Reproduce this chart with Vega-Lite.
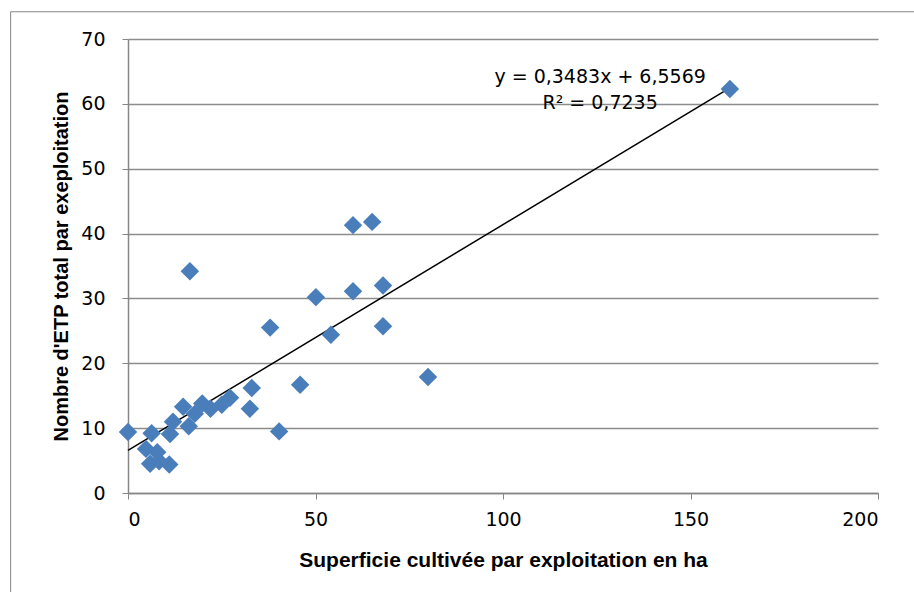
{
  "$schema": "https://vega.github.io/schema/vega-lite/v6.json",
  "autosize": "none",
  "width": 750,
  "height": 454,
  "padding": {"left": 128, "top": 39, "right": 36, "bottom": 99},
  "background": "white",
  "config": {
    "view": {"stroke": null},
    "font": "DejaVu Sans"
  },
  "datasets": {
    "points": [
      {"x": 0, "y": 9.4},
      {"x": 4.8, "y": 6.8},
      {"x": 5.9, "y": 4.5},
      {"x": 6.3, "y": 9.2},
      {"x": 7.8, "y": 6.3},
      {"x": 8.3, "y": 4.9},
      {"x": 11, "y": 4.4},
      {"x": 11.2, "y": 9.1},
      {"x": 12, "y": 11},
      {"x": 14.7, "y": 13.3},
      {"x": 16.2, "y": 10.3},
      {"x": 16.5, "y": 34.2},
      {"x": 17.8, "y": 12.2},
      {"x": 19.8, "y": 13.8},
      {"x": 22, "y": 13},
      {"x": 25, "y": 13.6},
      {"x": 27.2, "y": 14.7},
      {"x": 32.5, "y": 13},
      {"x": 33, "y": 16.2},
      {"x": 37.9, "y": 25.5},
      {"x": 40.3, "y": 9.5},
      {"x": 45.9, "y": 16.7},
      {"x": 50.1, "y": 30.2},
      {"x": 54.1, "y": 24.4},
      {"x": 60, "y": 41.3},
      {"x": 65.1, "y": 41.8},
      {"x": 60, "y": 31.1},
      {"x": 68, "y": 32},
      {"x": 68, "y": 25.7},
      {"x": 80, "y": 17.9},
      {"x": 160.5, "y": 62.3}
    ],
    "trend": [
      {"x": 0, "y": 6.5569},
      {"x": 160.5, "y": 62.4591}
    ],
    "labels": [
      {"x": 125.9, "y": 64.1, "text": "y = 0,3483x + 6,5569"},
      {"x": 125.9, "y": 60.1, "text": "R² = 0,7235"}
    ]
  },
  "layer": [
    {
      "data": {"values": [{"a": 1}]},
      "mark": {"type": "rect", "filled": false, "color": "#868686", "strokeWidth": 1, "clip": false},
      "encoding": {
        "x": {"datum": -31.3, "type": "quantitative", "scale": {"domain": [0, 200]}},
        "x2": {"datum": 215},
        "y": {"datum": 74.2, "type": "quantitative", "scale": {"domain": [0, 70]}},
        "y2": {"datum": -17}
      }
    },
    {
      "data": {"name": "trend"},
      "mark": {"type": "line", "color": "black", "strokeWidth": 1.5},
      "encoding": {
        "x": {
          "field": "x", "type": "quantitative",
          "scale": {"domain": [0, 200], "nice": false, "zero": false},
          "axis": {
            "values": [0, 50, 100, 150, 200],
            "title": "Superficie cultivée par exploitation en ha",
            "titleFont": "Liberation Sans",
            "titleFontSize": 21, "titleFontWeight": "bold", "titleColor": "black",
            "titlePadding": 20,
            "labelFont": "DejaVu Sans", "labelFontSize": 19, "labelColor": "black",
            "labelPadding": 11, "tickSize": 6, "tickColor": "#868686",
            "domainColor": "#868686", "domainWidth": 1.5,
            "grid": false
          }
        },
        "y": {
          "field": "y", "type": "quantitative",
          "scale": {"domain": [0, 70], "nice": false, "zero": false},
          "axis": {
            "values": [0, 10, 20, 30, 40, 50, 60, 70],
            "title": "Nombre d'ETP total par exeploitation",
            "titleFont": "Liberation Sans",
            "titleFontSize": 20, "titleFontWeight": "bold", "titleColor": "black",
            "titlePadding": 9,
            "labelFont": "DejaVu Sans", "labelFontSize": 19, "labelColor": "black",
            "labelPadding": 17, "tickSize": 6, "tickColor": "#868686",
            "domainColor": "#868686", "domainWidth": 1.5,
            "grid": true, "gridColor": "#8c8c8c", "gridWidth": 1.5
          }
        }
      }
    },
    {
      "data": {"name": "points"},
      "mark": {"type": "point", "shape": "diamond", "filled": true, "size": 340, "color": "#4a7ebb", "opacity": 1},
      "encoding": {
        "x": {"field": "x", "type": "quantitative"},
        "y": {"field": "y", "type": "quantitative"}
      }
    },
    {
      "data": {"name": "labels"},
      "mark": {"type": "text", "font": "DejaVu Sans", "fontSize": 19, "color": "black", "align": "center", "baseline": "middle"},
      "encoding": {
        "x": {"field": "x", "type": "quantitative"},
        "y": {"field": "y", "type": "quantitative"},
        "text": {"field": "text"}
      }
    }
  ]
}
